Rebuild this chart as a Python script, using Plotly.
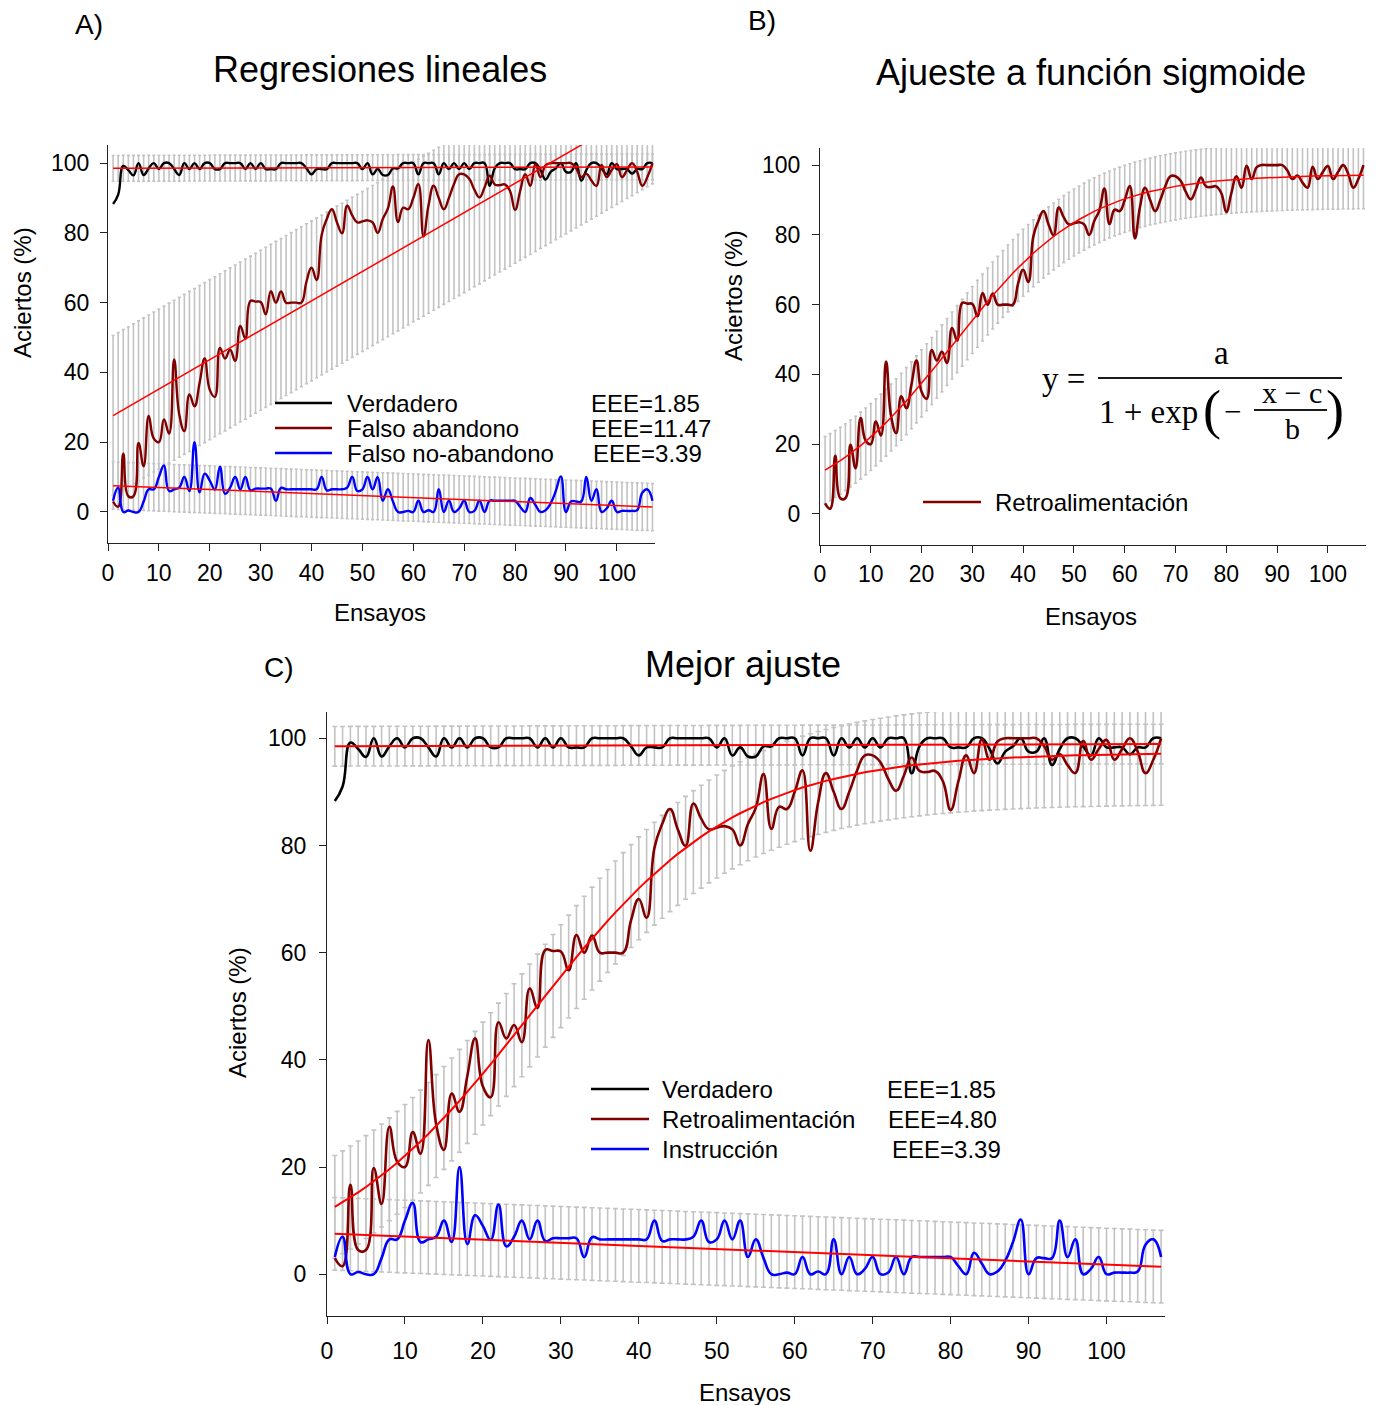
import math
import plotly.graph_objects as go

W, H = 1377, 1405

# ---------------- data ----------------
trials = list(range(1, 108))

verdadero = [
    88.3, 91.0, 99.2, 98.0, 96.5, 100, 96.6, 98.5, 100, 98.3,
    100, 100, 98.3, 96.6, 100, 98.3, 100, 98.3, 100, 100,
    98.3, 98.3, 100, 100, 100, 100, 98.3, 100, 98.3, 100,
    98.3, 98.3, 98.3, 100, 100, 100, 100, 100, 98.5, 96.8,
    98.3, 98.3, 98.3, 100, 100, 100, 100, 100, 100, 98.3,
    100, 96.8, 98.3, 96.6, 96.6, 98.5, 98.5, 100, 100, 100,
    96.8, 100, 100, 100, 96.8, 100, 98.3, 100, 98.3, 100,
    98.3, 100, 100, 100, 93.5, 98.5, 100, 100, 100, 98.3,
    98.3, 98.3, 100, 100, 98.0, 95.3, 97.5, 98.5, 100, 97.5,
    97.5, 100, 95.0, 98.0, 100, 100, 98.5, 96.8, 100, 98.3,
    98.3, 98.3, 97.0, 98.3, 98.3, 100, 100,
]

retroalimentacion = [
    3.0, 1.5, 16.7, 4.5, 4.5, 19.8, 13.1, 27.5, 21.0, 20.0,
    26.5, 22.5, 43.7, 28.0, 23.2, 33.7, 30.3, 37.0, 44.0, 35.0,
    33.0, 47.0, 44.0, 46.5, 43.3, 53.3, 49.7, 60.5, 60.3, 60.2,
    56.7, 63.3, 60.0, 63.2, 60.0, 60.0, 60.0, 60.0, 66.0, 70.0,
    66.5, 79.5, 84.0, 86.8, 83.0, 79.9, 87.8, 85.0, 83.0, 83.3,
    83.6, 83.0, 80.0, 84.0, 87.0, 93.3, 83.1, 87.2, 86.8, 90.0,
    94.0, 79.0, 88.0, 93.5, 90.0, 86.8, 90.0, 94.0, 96.8, 96.8,
    95.5, 92.4, 90.2, 93.0, 96.4, 93.9, 93.7, 93.9, 92.0, 86.6,
    92.0, 96.8, 93.5, 99.8, 96.0, 99.4, 100, 100, 100, 100,
    100, 98.5, 96.0, 97.0, 95.0, 93.5, 99.5, 96.0, 98.0, 99.7,
    96.0, 98.0, 100, 97.5, 93.5, 96.0, 100,
]

instruccion = [
    3.2, 7.0, 0.0, 0.4, 0.0, 0.0, 3.0, 6.5, 6.5, 10.0,
    13.3, 6.0, 6.5, 7.0, 10.0, 6.0, 20.0, 5.6, 11.0, 9.0,
    6.4, 13.0, 5.2, 7.0, 10.0, 6.5, 10.0, 6.2, 6.7, 6.7,
    6.7, 6.7, 3.2, 6.9, 6.5, 6.5, 6.5, 6.5, 6.5, 6.5,
    6.5, 10.0, 6.2, 6.5, 6.5, 6.5, 7.0, 10.0, 6.0, 6.5,
    10.0, 6.5, 10.0, 3.2, 6.5, 3.0, 0.0, 0.0, 0.3, 0.0,
    3.2, 0.0, 0.5, 0.0, 6.5, 0.0, 3.2, 0.0, 1.0, 3.2,
    0.0, 0.3, 3.2, 0.0, 3.2, 3.2, 3.2, 3.2, 3.2, 3.2,
    1.5, 0.0, 4.0, 2.0, 0.0, 0.5, 2.5, 6.0, 10.2, 0.0,
    3.0, 3.0, 3.0, 10.0, 3.2, 6.5, 0.0, 1.0, 3.2, 0.0,
    0.3, 0.3, 0.3, 0.5, 5.5, 6.5, 3.2,
]

# fitted models (parameters)
verdadero_fit = (98.5, 0.004)        # intercept, slope
falso_abandono_fit = (26.8, 0.843)   # intercept, slope
instruccion_fit = (7.6, -0.058)      # intercept, slope
sigmoide_fit = (97.3, 13.2, 26.2)    # a, b, c

eee_verdadero = 1.85
eee_falso_abandono = 11.47
eee_instruccion = 3.39
eee_sigmoide = 4.80

x_ticks = [0, 10, 20, 30, 40, 50, 60, 70, 80, 90, 100]
y_ticks = [0, 20, 40, 60, 80, 100]


# ---------------- helpers ----------------
def linear(p):
    return [p[0] + p[1] * t for t in trials]


def sigmoid(p):
    a, b, c = p
    return [a / (1 + math.exp(-(t - c) / b)) for t in trials]


def px(x):
    return x / W


def py(y):
    return 1 - y / H


FONT = "Liberation Sans, Arial, sans-serif"
SERIF = "Liberation Serif, DejaVu Serif, serif"
MAROON = "#800000"
RED = "#ff0000"
BLUE = "#0000ff"
BLACK = "#000000"
GRAY = "#c3c3c3"
SMOOTH = 1.3

fig = go.Figure()


def add_panel(k, series, lw, fw, capw):
    xa = "x" if k == 1 else f"x{k}"
    ya = "y" if k == 1 else f"y{k}"
    for vals, color, fit, band in series:
        fig.add_trace(go.Scatter(
            x=trials, y=fit, mode="markers", xaxis=xa, yaxis=ya,
            marker=dict(size=1, color="rgba(0,0,0,0)"),
            error_y=dict(type="constant", value=band, color=GRAY,
                         thickness=1.6, width=capw),
            showlegend=False, hoverinfo="skip"))
    for vals, color, fit, band in series:
        fig.add_trace(go.Scatter(
            x=trials, y=vals, mode="lines", xaxis=xa, yaxis=ya,
            line=dict(color=color, width=lw, shape="spline", smoothing=SMOOTH),
            showlegend=False))
    for vals, color, fit, band in series:
        fig.add_trace(go.Scatter(
            x=trials, y=fit, mode="lines", xaxis=xa, yaxis=ya,
            line=dict(color=RED, width=fw),
            showlegend=False))


# Panel A: linear regressions
add_panel(1, [
    (verdadero, BLACK, linear(verdadero_fit), 2 * eee_verdadero),
    (retroalimentacion, MAROON, linear(falso_abandono_fit), 2 * eee_falso_abandono),
    (instruccion, BLUE, linear(instruccion_fit), 2 * eee_instruccion),
], lw=2.4, fw=1.5, capw=1.5)

# Panel B: sigmoid fit
add_panel(2, [
    (retroalimentacion, MAROON, sigmoid(sigmoide_fit), 2 * eee_sigmoide),
], lw=2.6, fw=1.5, capw=1.5)

# Panel C: best fit
add_panel(3, [
    (verdadero, BLACK, linear(verdadero_fit), 2 * eee_verdadero),
    (retroalimentacion, MAROON, sigmoid(sigmoide_fit), 2 * eee_sigmoide),
    (instruccion, BLUE, linear(instruccion_fit), 2 * eee_instruccion),
], lw=2.6, fw=2.0, capw=2.5)


def xaxis(dom, anchor, standoff):
    return dict(domain=dom, anchor=anchor, range=[0, 107.5], automargin=False,
                tickvals=x_ticks, ticks="outside", ticklen=7, tickwidth=1.3,
                tickcolor="#222", showline=True, linecolor="#222", linewidth=1.3,
                showgrid=False, zeroline=False,
                tickfont=dict(family=FONT, size=23, color="#000"),
                ticklabelstandoff=standoff)


def yaxis(dom, anchor, rng, standoff):
    return dict(domain=dom, anchor=anchor, range=rng, automargin=False,
                tickvals=y_ticks, ticks="outside", ticklen=7, tickwidth=1.3,
                tickcolor="#222", showline=True, linecolor="#222", linewidth=1.3,
                showgrid=False, zeroline=False,
                tickfont=dict(family=FONT, size=23, color="#000"),
                ticklabelstandoff=standoff)


fig.update_layout(
    width=W, height=H, margin=dict(l=0, r=0, t=0, b=0, autoexpand=False),
    paper_bgcolor="white", plot_bgcolor="white", showlegend=False,
    xaxis=xaxis([px(108), px(655)], "y", 2),
    yaxis=yaxis([py(543), py(145)], "x", [-8.9, 105.2], 6),
    xaxis2=xaxis([px(820), px(1366)], "y2", 1),
    yaxis2=yaxis([py(545), py(148)], "x2", [-8.9, 104.9], 7),
    xaxis3=xaxis([px(327), px(1165)], "y3", 7),
    yaxis3=yaxis([py(1316), py(712)], "x3", [-7.8, 104.9], 8),
)

ann = []


def text(x, y, s, size=24, xanchor="center", yanchor="middle", angle=0, family=FONT):
    ann.append(dict(x=px(x), y=py(y), xref="paper", yref="paper", text=s,
                    showarrow=False, xanchor=xanchor, yanchor=yanchor,
                    textangle=angle, font=dict(family=family, size=size, color="#000")))


shapes = []


def seg(x0, y0, x1, y1, color, width):
    shapes.append(dict(type="line", xref="paper", yref="paper",
                       x0=px(x0), y0=py(y0), x1=px(x1), y1=py(y1),
                       line=dict(color=color, width=width)))


# titles and panel letters
text(89, 24, "A)", size=28)
text(380, 69, "Regresiones lineales", size=36)
text(762, 21, "B)", size=28)
text(1091, 72, "Ajueste a función sigmoide", size=36)
text(279, 667, "C)", size=28)
text(743, 665, "Mejor ajuste", size=36)

# axis titles
text(380, 613, "Ensayos")
text(22, 293, "Aciertos (%)", angle=-90)
text(1091, 616, "Ensayos")
text(733, 296, "Aciertos (%)", angle=-90)
text(745, 1392, "Ensayos")
text(237, 1013, "Aciertos (%)", angle=-90)

# legend A
for yy, col, lab in [(403, BLACK, "Verdadero"),
                     (428, MAROON, "Falso abandono"),
                     (453, BLUE, "Falso no-abandono")]:
    seg(275, yy, 332, yy, col, 2.5)
    text(345, yy, lab, xanchor="left")
text(589, 403, "EEE=1.85", xanchor="left")
text(589, 428, "EEE=11.47", xanchor="left")
text(591, 453, "EEE=3.39", xanchor="left")

# legend B
seg(923, 502, 981, 502, MAROON, 2.5)
text(993, 502, "Retroalimentación", xanchor="left")

# legend C
for yy, col, lab in [(1089, BLACK, "Verdadero"),
                     (1119, MAROON, "Retroalimentación"),
                     (1149, BLUE, "Instrucción")]:
    seg(591, yy, 649, yy, col, 2.5)
    text(660, yy, lab, xanchor="left")
text(885, 1089, "EEE=1.85", xanchor="left")
text(886, 1119, "EEE=4.80", xanchor="left")
text(890, 1149, "EEE=3.39", xanchor="left")

# equation (panel B)
EQ = "#1a1a1a"
text(1087, 379, "y =", size=33, xanchor="right", family=SERIF)
seg(1098, 378, 1342, 378, EQ, 2.2)
text(1221, 353, "a", size=33, family=SERIF)
text(1097, 412, "1 + exp", size=33, xanchor="left", family=SERIF)
text(1212, 410, "(", size=54, family=SERIF)
text(1232, 411, "−", size=31, family=SERIF)
seg(1254, 410, 1327, 410, EQ, 1.8)
text(1292, 392, "x − c", size=30, family=SERIF)
text(1292, 429, "b", size=30, family=SERIF)
text(1335, 410, ")", size=54, family=SERIF)

fig.update_layout(annotations=ann, shapes=shapes)
fig.write_html("out.html")
